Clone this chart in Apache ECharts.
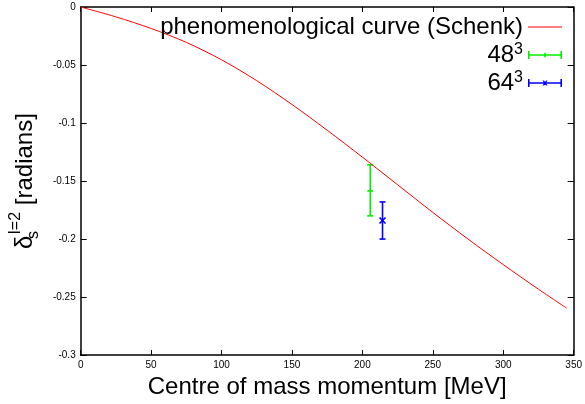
<!DOCTYPE html>
<html>
<head>
<meta charset="utf-8">
<script src="https://cdn.jsdelivr.net/npm/echarts@6/dist/echarts.min.js"></script>
<style>
html,body{margin:0;padding:0;background:#fff;}
#chart{width:585px;height:404px;}
</style>
</head>
<body>
<div id="chart"></div>
<script>
// Phenomenological curve (Schenk): momentum [MeV], phase shift [radians]
const curveMomentum = [0, 25, 50, 75, 100, 125, 150, 175, 200, 225, 250, 275, 300, 325, 345];
const curvePhase = [0, -0.0085, -0.0185, -0.0305, -0.0455, -0.0635, -0.084, -0.1062, -0.1294, -0.1532, -0.177, -0.200, -0.222, -0.2432, -0.2595];

// Lattice points: [momentum, centre, low, high]
const lat48 = [[205.6, -0.1585, -0.180, -0.136]];
const lat64 = [[214.3, -0.184, -0.200, -0.168]];

const xTicks = {min: 0, max: 350, interval: 50};
const yTicks = {min: -0.3, max: 0, interval: 0.05};

const curveData = curveMomentum.map((m, i) => [m, curvePhase[i]]);

function errorBarRenderer(color, mark) {
  return function (params, api) {
    const x = api.value(0);
    const c = api.coord([x, api.value(1)]);
    const lo = api.coord([x, api.value(2)]);
    const hi = api.coord([x, api.value(3)]);
    const cap = 3;
    const st = {stroke: color, lineWidth: 1.6};
    const children = [
      {type: 'line', shape: {x1: lo[0], y1: lo[1], x2: hi[0], y2: hi[1]}, style: st},
      {type: 'line', shape: {x1: lo[0] - cap, y1: lo[1], x2: lo[0] + cap, y2: lo[1]}, style: st},
      {type: 'line', shape: {x1: hi[0] - cap, y1: hi[1], x2: hi[0] + cap, y2: hi[1]}, style: st}
    ];
    if (mark === 'plus') {
      children.push({type: 'line', shape: {x1: c[0] - 3, y1: c[1], x2: c[0] + 3, y2: c[1]}, style: st});
    } else {
      children.push({type: 'line', shape: {x1: c[0] - 3, y1: c[1] - 3, x2: c[0] + 3, y2: c[1] + 3}, style: st});
      children.push({type: 'line', shape: {x1: c[0] - 3, y1: c[1] + 3, x2: c[0] + 3, y2: c[1] - 3}, style: st});
    }
    return {type: 'group', children: children};
  };
}

const lineIcon = 'path://M0,0H34V1.2H0Z';
const ebIconPlus = 'path://M0,0H1.6V8H0Z M32.4,0H34V8H32.4Z M0,3.2H34V4.8H0Z M16.2,1.8H17.8V6.2H16.2Z';
const ebIconX = 'path://M0,0H1.6V8H0Z M32.4,0H34V8H32.4Z M0,3.2H34V4.8H0Z M14.5,1.5L16,1.5L19.5,6.5L18,6.5Z M18,1.5L19.5,1.5L16,6.5L14.5,6.5Z';

const chart = echarts.init(document.getElementById('chart'), null, {renderer: 'canvas'});
const fontFam = '"Liberation Sans", Arial, Helvetica, sans-serif';

chart.setOption({
  backgroundColor: '#ffffff',
  animation: false,
  textStyle: {fontFamily: fontFam},
  grid: {left: 80, right: 11, top: 7, bottom: 43, containLabel: false},
  legend: {
    orient: 'vertical',
    right: 23,
    top: 14,
    align: 'right',
    itemGap: 2,
    itemWidth: 34,
    itemHeight: 8,
    padding: 0,
    textStyle: {
      fontFamily: fontFam, fontSize: 24, color: '#000', lineHeight: 26,
      rich: {sup: {fontSize: 16, verticalAlign: 'top', lineHeight: 26, fontFamily: fontFam, color: '#000'}}
    },
    formatter: function (name) {
      if (name === '48^3') return '48{sup|3}';
      if (name === '64^3') return '64{sup|3}';
      return name;
    },
    data: [
      {name: 'phenomenological curve (Schenk)', icon: lineIcon},
      {name: '48^3', icon: ebIconPlus},
      {name: '64^3', icon: ebIconX}
    ]
  },
  xAxis: [{
    type: 'value', position: 'bottom',
    min: xTicks.min, max: xTicks.max, interval: xTicks.interval,
    name: 'Centre of mass momentum [MeV]', nameLocation: 'middle', nameGap: 16,
    nameTextStyle: {fontSize: 24, color: '#000', fontFamily: fontFam},
    axisLine: {show: true, onZero: false, lineStyle: {color: '#000', width: 1.5}},
    axisTick: {show: true, inside: true, length: 5, lineStyle: {color: '#000'}},
    axisLabel: {fontSize: 10, color: '#000', margin: 5},
    splitLine: {show: false}
  }, {
    type: 'value', position: 'top',
    min: xTicks.min, max: xTicks.max, interval: xTicks.interval,
    axisLine: {show: true, onZero: false, lineStyle: {color: '#000', width: 1.5}},
    axisTick: {show: true, inside: true, length: 5, lineStyle: {color: '#000'}},
    axisLabel: {show: false},
    splitLine: {show: false}
  }],
  yAxis: [{
    type: 'value', position: 'left',
    min: yTicks.min, max: yTicks.max, interval: yTicks.interval,
    name: '{d|δ}{sub|s}{sup|I=2} [radians]', nameLocation: 'middle', nameGap: 33,
    nameTextStyle: {
      fontSize: 24, color: '#000', fontFamily: fontFam, lineHeight: 34,
      rich: {
        d: {fontSize: 24, fontFamily: fontFam, color: '#000', lineHeight: 34},
        sub: {fontSize: 16, fontFamily: fontFam, color: '#000', verticalAlign: 'bottom', lineHeight: 34, width: 1},
        sup: {fontSize: 16, fontFamily: fontFam, color: '#000', verticalAlign: 'top', lineHeight: 34}
      }
    },
    axisLine: {show: true, onZero: false, lineStyle: {color: '#000', width: 1.5}},
    axisTick: {show: true, inside: true, length: 6, lineStyle: {color: '#000'}},
    axisLabel: {fontSize: 10, color: '#000', margin: 5},
    splitLine: {show: false}
  }, {
    type: 'value', position: 'right',
    min: yTicks.min, max: yTicks.max, interval: yTicks.interval,
    axisLine: {show: true, onZero: false, lineStyle: {color: '#000', width: 1.5}},
    axisTick: {show: true, inside: true, length: 6, lineStyle: {color: '#000'}},
    axisLabel: {show: false},
    splitLine: {show: false}
  }],
  series: [{
    name: 'phenomenological curve (Schenk)',
    type: 'line',
    data: curveData,
    smooth: 0.3,
    showSymbol: false,
    symbol: 'none',
    color: '#ff0000',
    lineStyle: {color: '#ff0000', width: 1}
  }, {
    name: '48^3',
    type: 'custom',
    data: lat48,
    encode: {x: 0, y: [1, 2, 3]},
    color: '#00ee00',
    itemStyle: {color: '#00ee00'},
    renderItem: errorBarRenderer('#00ee00', 'plus')
  }, {
    name: '64^3',
    type: 'custom',
    data: lat64,
    encode: {x: 0, y: [1, 2, 3]},
    color: '#0000ff',
    itemStyle: {color: '#0000ff'},
    renderItem: errorBarRenderer('#0000ff', 'x')
  }]
});
</script>
</body>
</html>
